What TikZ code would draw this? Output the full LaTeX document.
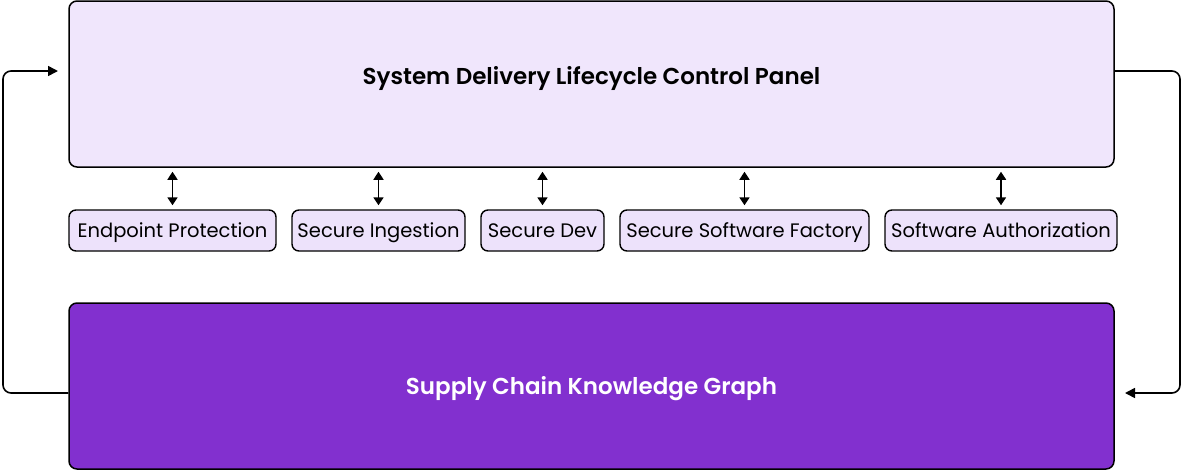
\documentclass[tikz,border=0pt]{standalone}
\usepackage{fontspec}
\setmainfont{Poppins}
\newfontfamily\semib{Poppins}[UprightFont=* SemiBold]
\usetikzlibrary{arrows.meta}
\definecolor{lav}{HTML}{F0E6FC}
\definecolor{lavs}{HTML}{EDE2FB}
\definecolor{purp}{HTML}{8230CF}
\tikzset{
  panel/.style={draw=black, line width=1.5pt, rounded corners=8pt, minimum width=1045pt, minimum height=166pt, inner sep=0pt},
  title/.style={font=\semib\fontsize{23}{26}\selectfont, text height=0.72em, text depth=0.22em, inner sep=0pt},
  comp/.style={draw=black, line width=1.4pt, rounded corners=7pt, fill=lavs, minimum height=41pt, inner sep=0pt, text height=0.72em, text depth=0.22em, font=\fontsize{19.5}{22}\selectfont},
  link/.style={line width=1.7pt, {Triangle[length=8pt,width=10pt]}-{Triangle[length=8pt,width=10pt]}},
  loop/.style={line width=1.6pt, rounded corners=8pt, -{Triangle[length=10pt,width=10pt]}}
}
\begin{document}
\begin{tikzpicture}[x=1pt,y=-1pt]
\useasboundingbox (0,0) rectangle (1181,472);
\node[panel, fill=lav] (top) at (591.5,84) {};
\node[title] (toptxt) at (591.5,81.5) {System Delivery Lifecycle Control Panel};
\node[panel, fill=purp] (bot) at (591.5,386) {};
\node[title, text=white] (bottxt) at (591.5,391.5) {Supply Chain Knowledge Graph};
\node[comp, minimum width=207pt] (c1) at (172.5,230.5) {\raisebox{-4.5pt}{Endpoint Protection}};
\node[comp, minimum width=173pt] (c2) at (378.5,230.5) {\raisebox{-4.5pt}{Secure Ingestion}};
\node[comp, minimum width=123pt] (c3) at (542.5,230.5) {\raisebox{-4.5pt}{Secure Dev}};
\node[comp, minimum width=249pt] (c4) at (744.5,230.5) {\raisebox{-4.5pt}{Secure Software Factory}};
\node[comp, minimum width=232pt] (c5) at (1001,230.5) {\raisebox{-4.5pt}{Software Authorization}};
\foreach \i in {1,...,5}{
  \draw[link] ([yshift=-4pt]top.south -| c\i.north) -- ([yshift=4pt]c\i.north);
}
\coordinate (lin) at (58,71);
\coordinate (rin) at (1125,393);
\draw[loop] (bot.west |- 0,393) -- (3,393) -- (3,71) -- (lin);
\draw[loop] (top.east |- 0,71) -- (1180,71) -- (1180,393) -- (rin);
\end{tikzpicture}
\end{document}
